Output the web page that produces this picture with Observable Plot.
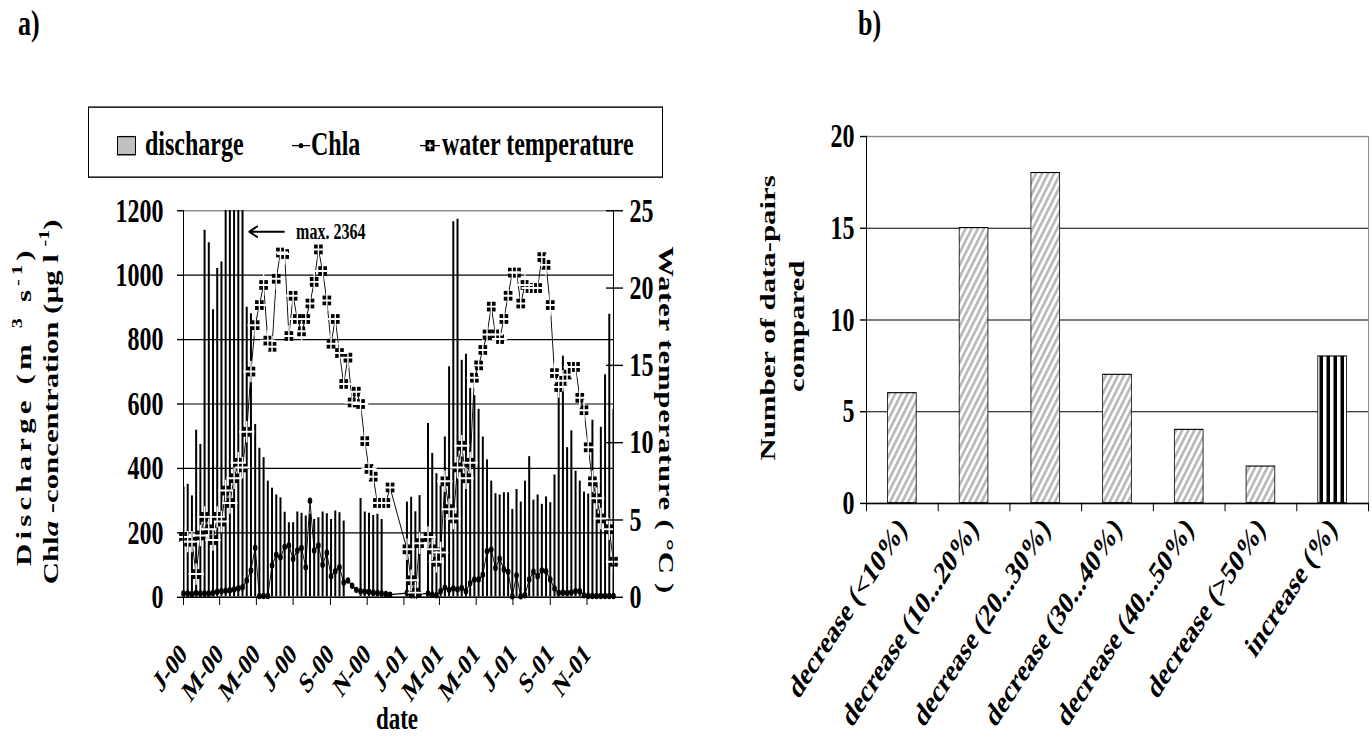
<!DOCTYPE html>
<html><head><meta charset="utf-8">
<script src="https://cdn.jsdelivr.net/npm/d3@7"></script>
<script src="https://cdn.jsdelivr.net/npm/@observablehq/plot@0.6"></script>
<style>
html,body{margin:0;padding:0;background:#fff;}
body{width:1372px;height:738px;position:relative;overflow:hidden;font-family:"Liberation Serif","Times New Roman",serif;font-weight:bold;color:#000;}
#fig{position:absolute;left:0;top:0;width:1372px;height:527px;transform:scaleY(1.4004);transform-origin:0 0;}
.abs{position:absolute;white-space:nowrap;line-height:1;}
.rotL{transform:translate(-50%,-50%) rotate(-90deg);}
.rotR{transform:translate(-50%,-50%) rotate(90deg);}
.panel{position:absolute;top:0;}
sup{font-size:65%;vertical-align:0.6em;line-height:0;}
#legend{position:absolute;left:88px;top:76px;width:575px;height:51px;border:1px solid #000;box-sizing:border-box;}
#legend .it{position:absolute;top:13px;font-size:24px;white-space:nowrap;}
</style></head><body>
<div id="fig">
<div id="chartA" class="panel" style="left:0"></div>
<div id="chartB" class="panel" style="left:700px"></div>

<div class="abs" style="left:18px;top:4px;font-size:26px;">a)</div>
<div class="abs" style="left:858px;top:4px;font-size:26px;">b)</div>

<div id="legend">
  <svg class="abs" style="left:28px;top:20px" width="20" height="15"><rect x="0.5" y="0.5" width="18" height="13" fill="#c0c0c0" stroke="#000"/></svg>
  <div class="it" style="left:56px">discharge</div>
  <svg class="abs" style="left:203px;top:21px" width="18" height="12"><line x1="0" y1="6" x2="18" y2="6" stroke="#000"/><ellipse cx="9" cy="6" rx="2.4" ry="1.8" fill="#000"/></svg>
  <div class="it" style="left:222px">Chla</div>
  <svg class="abs" style="left:331px;top:21px" width="20" height="12"><line x1="0" y1="6" x2="20" y2="6" stroke="#000"/><rect x="5.5" y="2" width="9" height="8" fill="#000"/><path d="M10 3.5V8.5M7.5 6H12.5" stroke="#fff" stroke-width="1.3"/></svg>
  <div class="it" style="left:353px">water temperature</div>
</div>

<div class="abs rotL" style="left:24px;top:290px;font-size:22px;letter-spacing:3px;">Discharge (m <sup>3</sup> s<sup>-1</sup>)</div>
<div class="abs rotL" style="left:51px;top:287px;font-size:22px;">Chl<i>a</i> -concentration (µg l <sup>-1</sup>)</div>
<div class="abs rotR" style="left:666px;top:300px;font-size:22px;letter-spacing:0.5px;">Water temperature ( °C )</div>
<div class="abs" style="left:397px;top:513px;transform:translate(-50%,-50%);font-size:23px;">date</div>

<div class="abs rotL" style="left:768px;top:227px;font-size:22px;">Number of data-pairs</div>
<div class="abs rotL" style="left:797px;top:233px;font-size:22px;">compared</div>
</div>

<script>
// ---------- Panel a data ----------
const dates = [
"2000-01-03","2000-01-10","2000-01-17","2000-01-24","2000-01-31",
"2000-02-07","2000-02-14","2000-02-21","2000-02-28",
"2000-03-06","2000-03-13","2000-03-20","2000-03-27",
"2000-04-03","2000-04-10","2000-04-17","2000-04-24",
"2000-05-01","2000-05-08","2000-05-15","2000-05-22","2000-05-29",
"2000-06-05","2000-06-12","2000-06-19","2000-06-26",
"2000-07-03","2000-07-10","2000-07-17","2000-07-24","2000-07-31",
"2000-08-07","2000-08-14","2000-08-21","2000-08-28",
"2000-09-04","2000-09-11","2000-09-18","2000-09-25",
"2000-10-02","2000-10-09","2000-10-16","2000-10-23","2000-10-30",
"2000-11-06","2000-11-13","2000-11-20","2000-11-27",
"2000-12-04","2000-12-11","2000-12-18","2000-12-25",
"2001-01-01","2001-01-08","2001-01-15","2001-01-22","2001-01-29",
"2001-02-05","2001-02-12","2001-02-19","2001-02-26",
"2001-03-05","2001-03-12","2001-03-19","2001-03-26",
"2001-04-02","2001-04-09","2001-04-16","2001-04-23","2001-04-30",
"2001-05-07","2001-05-14","2001-05-21","2001-05-28",
"2001-06-04","2001-06-11","2001-06-18","2001-06-25",
"2001-07-02","2001-07-09","2001-07-16","2001-07-23","2001-07-30",
"2001-08-06","2001-08-13","2001-08-20","2001-08-27",
"2001-09-03","2001-09-10","2001-09-17","2001-09-24",
"2001-10-01","2001-10-08","2001-10-15","2001-10-22","2001-10-29",
"2001-11-05","2001-11-12","2001-11-19","2001-11-26",
"2001-12-03","2001-12-10","2001-12-17"
];
const discharge = [
342,350,314,518,474,
1139,1100,892,1020,
1040,1450,1800,2364,
1600,1350,900,880,
536,462,433,360,338,
317,308,263,231,
231,264,260,252,257,
241,246,264,259,
241,267,262,236,
null,null,null,306,264,
260,253,258,241,
null,null,null,null,
null,295,310,265,315,
null,539,446,383,
345,497,715,1165,
1173,735,754,648,625,
583,497,426,360,
321,317,324,324,
272,334,295,360,436,
301,317,288,311,
293,379,665,748,
464,516,391,360,326,
320,549,358,527,
690,878,582
];
const chla = [
12,12,10,13,12,
12,12,13,17,
19,20,22,24,
27,31,52,83,
154,4,4,4,99,
132,124,156,161,
119,145,153,93,300,
145,161,101,138,
65,81,93,46,
52,36,23,19,17,
17,14,13,12,
10,8,null,null,
null,13,6,4,10,
null,12,8,6,
19,30,23,27,
24,29,19,44,55,
55,70,143,148,
91,120,86,79,
3,68,3,6,55,
79,65,83,81,
55,27,13,15,
13,15,19,19,6,
4,4,4,4,
4,4,4
];
const temperature = [
3.9,3.6,3.6,1.5,4.0,
5.2,4.4,3.7,5.2,
4.9,6.9,6.1,7.7,
8.7,8.4,10.7,14.6,
17.6,18.9,20.2,16.6,16.2,
20.6,22.3,22.2,16.9,
19.5,18.0,17.2,18.0,19.0,
20.4,22.5,21.1,19.2,
16.4,18.0,15.8,13.8,
15.5,12.6,13.3,12.5,10.1,
8.3,7.8,6.1,6.1,
6.1,7.1,null,null,
null,3.1,1.1,0.3,3.5,
null,3.9,3.1,2.3,
2.9,7.5,5.7,5.1,
8.4,9.8,7.7,8.7,14.2,
15.0,16.0,17.0,18.8,
17.0,16.7,18.0,19.5,
21.0,21.0,19.0,20.2,20.0,
20.0,20.0,22.0,21.5,
18.9,14.5,13.6,14.0,
14.4,14.9,14.9,12.9,12.1,
9.7,7.5,6.4,5.1,
null,4.4,2.3
];
const xStart = "2000-01-03", xEnd = "2001-12-17";
const tickDates = ["2000-01-03","2000-03-03","2000-05-03","2000-07-03","2000-09-03","2000-11-03",
                   "2001-01-03","2001-03-03","2001-05-03","2001-07-03","2001-09-03","2001-11-03"];
const tickLabels = ["J-00","M-00","M-00","J-00","S-00","N-00","J-01","M-01","M-01","J-01","S-01","N-01"];
const leftTicks = [0,200,400,600,800,1000,1200];
const tempTicks = [0,5,10,15,20,25];
const maxNote = {label: "max. 2364", textDate: "2000-07-08", arrowFrom: "2000-06-18", arrowTo: "2000-04-21", level: 1135};

// ---------- Panel b data ----------
const categories = ["decrease (<10%)","decrease (10...20%)","decrease (20...30%)","decrease (30...40%)","decrease (40...50%)","decrease (>50%)","increase (%)"];
const counts = [6,15,18,7,4,2,8];
const kinds = ["decrease","decrease","decrease","decrease","decrease","decrease","increase"];
const bTicks = [0,5,10,15,20];

// ---------- build panel a ----------
const parse = s => new Date(s + "T00:00:00Z");
const rows = dates.map((d, i) => ({date: parse(d), discharge: discharge[i], chla: chla[i], temp: temperature[i]}));
const qRows = rows.filter(r => r.discharge != null);
const cRows = rows.filter(r => r.chla != null);
const tRows = rows.filter(r => r.temp != null);
const yMax = leftTicks[leftTicks.length - 1];
const tMax = tempTicks[tempTicks.length - 1];
const tScale = yMax / tMax;
const xDomain = [parse(xStart), parse(xEnd)];
const tickDateObjs = tickDates.map(parse);
const flatSquare = {draw(ctx, size) { const w = Math.sqrt(size); ctx.rect(-w / 2, -w * 0.4, w, w * 0.8); }};

const chartA = Plot.plot({
  width: 700, height: 527,
  marginLeft: 183, marginRight: 87, marginTop: 150, marginBottom: 101,
  style: {fontFamily: "Liberation Serif", fontWeight: "bold", fontSize: "24px", color: "#000", background: "transparent", overflow: "visible"},
  x: {type: "utc", domain: xDomain},
  y: {domain: [0, yMax]},
  marks: [
    Plot.frame({stroke: "#8c8c8c"}),
    Plot.gridY({ticks: leftTicks.slice(1, -1), stroke: "#000", strokeOpacity: 1, strokeWidth: 0.8}),
    Plot.ruleX(qRows, {x: "date", y1: 0, y2: "discharge", stroke: "#000", strokeWidth: 2, clip: true}),
    Plot.line(cRows, {x: "date", y: "chla", stroke: "#000", strokeWidth: 0.9}),
    Plot.dot(cRows, {x: "date", y: "chla", r: 2.3, fill: "#000"}),
    Plot.line(tRows, {x: "date", y: d => d.temp * tScale, stroke: "#000", strokeWidth: 0.9}),
    Plot.dot(tRows, {x: "date", y: d => d.temp * tScale, symbol: flatSquare, r: 4.9, fill: "#000"}),
    Plot.dot(tRows, {x: "date", y: d => d.temp * tScale, symbol: "plus", r: 5, stroke: "#fff", strokeWidth: 1.4}),
    Plot.ruleY([0], {stroke: "#000"}),
    Plot.ruleX(xDomain, {stroke: "#000"}),
    Plot.axisY({ticks: leftTicks, tickFormat: d3.format("d"), tickSize: 6, tickPadding: 14, fontSize: 24, fontWeight: "bold", label: null}),
    Plot.axisY({anchor: "right", ticks: tempTicks.map(t => t * tScale), tickFormat: d => d3.format("d")(d / tScale), tickSize: 9, tickPadding: 7, fontSize: 24, fontWeight: "bold", label: null}),
    Plot.axisY({anchor: "right", ticks: tempTicks.map(t => t * tScale), tickFormat: () => "", tickSize: -8, label: null}),
    Plot.axisX({ticks: tickDateObjs, tickFormat: d => tickLabels[tickDateObjs.findIndex(t => +t === +d)], tickRotate: -45, textAnchor: "end", tickSize: 6, tickPadding: 31, fontSize: 21, fontWeight: "bold", label: null}),
    Plot.arrow([maxNote], {x1: d => parse(d.arrowFrom), x2: d => parse(d.arrowTo), y1: "level", y2: "level", stroke: "#000", strokeWidth: 1.5, headLength: 9, headAngle: 50}),
    Plot.text([maxNote], {x: d => parse(d.textDate), y: "level", text: "label", textAnchor: "start", fontSize: 16, fontWeight: "bold"})
  ]
});
document.getElementById("chartA").append(chartA);

// ---------- build panel b ----------
const bRows = categories.map((c, i) => ({cat: c, i0: i, i1: i + 1, count: counts[i], kind: kinds[i]}));
const n = categories.length;
const chartB = Plot.plot({
  width: 672, height: 527,
  marginLeft: 166, marginRight: 4, marginTop: 97, marginBottom: 168,
  style: {fontFamily: "Liberation Serif", fontWeight: "bold", fontSize: "24px", color: "#000", background: "transparent", overflow: "visible"},
  x: {type: "linear", domain: [0, n]},
  y: {domain: [0, bTicks[bTicks.length - 1]]},
  marks: [
    () => {
      const ns = "http://www.w3.org/2000/svg";
      const defs = document.createElementNS(ns, "defs");
      defs.innerHTML = '<pattern id="diag" patternUnits="userSpaceOnUse" width="5" height="5" patternTransform="rotate(35)"><rect width="5" height="5" fill="#fff"/><rect width="2.4" height="5" fill="#b8b8b8"/></pattern>' +
        '<pattern id="vert" patternUnits="userSpaceOnUse" width="7" height="10"><rect width="7" height="10" fill="#fff"/><rect x="3.5" width="3.5" height="10" fill="#000"/></pattern>';
      return defs;
    },
    Plot.frame({stroke: "#8c8c8c"}),
    Plot.gridY({ticks: bTicks.slice(1, -1), stroke: "#000", strokeOpacity: 1, strokeWidth: 0.8}),
    Plot.rectY(bRows.filter(d => d.kind === "decrease"), {x1: "i0", x2: "i1", y: "count", insetLeft: 21.5, insetRight: 21.5, fill: "url(#diag)", stroke: "#000", strokeWidth: 0.8}),
    Plot.rectY(bRows.filter(d => d.kind === "increase"), {x1: "i0", x2: "i1", y: "count", insetLeft: 21.5, insetRight: 21.5, fill: "url(#vert)", stroke: "#000", strokeWidth: 0.8}),
    Plot.ruleY([0], {stroke: "#000"}),
    Plot.ruleX([0], {stroke: "#000"}),
    Plot.axisY({ticks: bTicks, tickSize: 6, tickPadding: 6, fontSize: 24, fontWeight: "bold", label: null}),
    Plot.axisX({ticks: d3.range(0, n + 1), tickFormat: () => "", tickSize: 6, label: null}),
    Plot.axisX({ticks: categories.map((c, i) => i + 0.5), tickFormat: v => categories[Math.floor(v)], tickRotate: -48, textAnchor: "end", tickSize: 0, tickPadding: 14, fontSize: 23, fontWeight: "bold", label: null})
  ]
});
document.getElementById("chartB").append(chartB);
</script>
</body></html>
